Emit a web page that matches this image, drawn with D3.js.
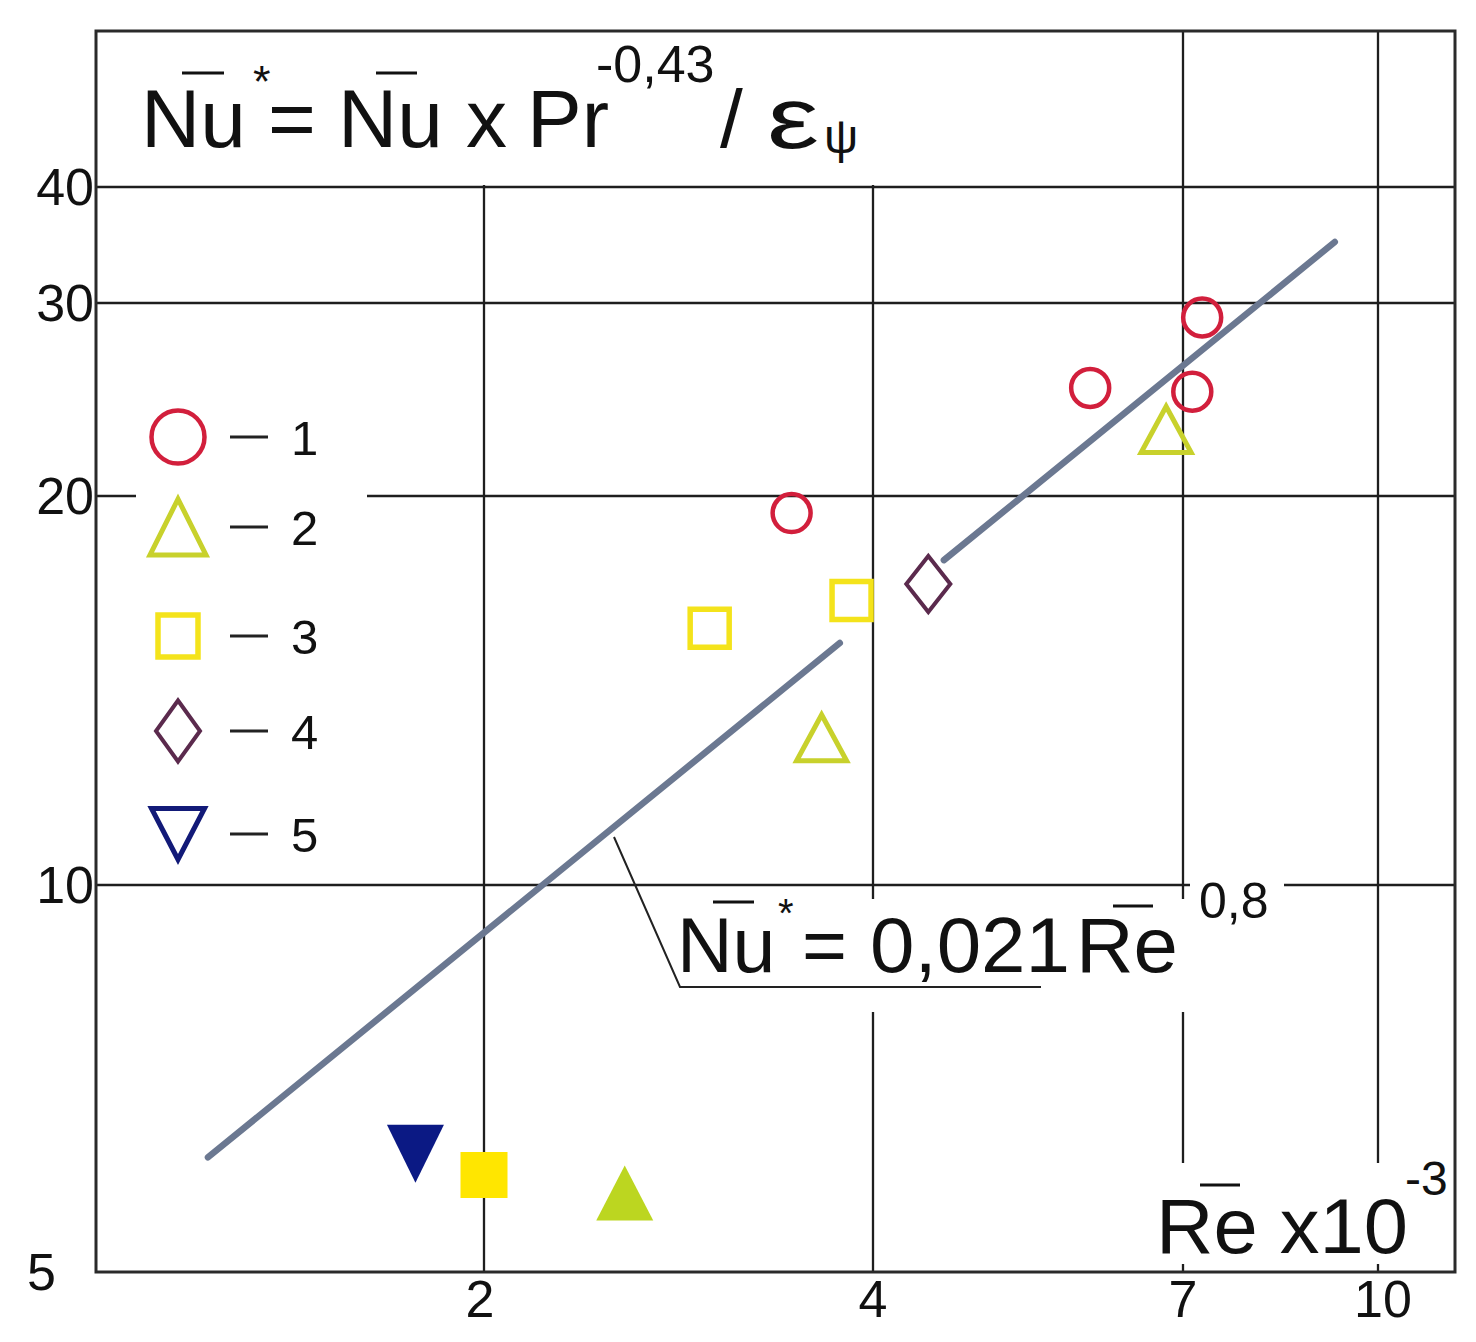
<!DOCTYPE html>
<html><head><meta charset="utf-8">
<script src="https://cdn.jsdelivr.net/npm/d3@7"></script>
<style>
body{margin:0;background:#fff}
svg{display:block}
text{font-family:"Liberation Sans",Arial,Helvetica,sans-serif;fill:#111}
</style>
</head><body>
<svg id="c" width="1476" height="1342"></svg>
<script>
// ---------- data ----------
const categories = ["1", "2", "3", "4", "5"];
const xTicks = [2, 4, 7, 10];          // Re x 10^-3
const yTicks = [5, 10, 20, 30, 40];    // Nu*

// open markers (legend series)
const s1Re = [3.46, 5.92, 7.25, 7.12];
const s1Nu = [19.4, 25.1, 29.1, 24.9];
const s2Re = [3.65, 6.79];
const s2Nu = [13.0, 23.0];
const s3Re = [2.99, 3.85];
const s3Nu = [15.8, 16.6];
const s4Re = [4.42];
const s4Nu = [17.1];
const s5Re = [];
const s5Nu = [];

// filled markers
const filledCat = ["5", "3", "2"];
const filledRe = [1.77, 2.00, 2.57];
const filledNu = [6.18, 5.95, 5.76];

// correlation line Nu* = 0.021 Re^0.8 (drawn in two pieces)
const fitRe = [1.223, 3.77, null, 4.546, 9.24];
const fitNu = [6.14, 15.39, null, 17.84, 34.9];

// ---------- layout ----------
const plot = {left: 96, top: 31, right: 1455, bottom: 1272};
const x = d3.scaleLog().domain(xTicks).range([484, 873, 1183, 1378]);
const y = d3.scaleLog().domain(yTicks).range([1272, 885, 496, 303, 187]);

const openColor = {"1": "#d21f3c", "2": "#c8d12c", "3": "#f4e31b", "4": "#5b2a4d", "5": "#121a78"};
const fillColor = {"5": "#0b1984", "3": "#ffe600", "2": "#bcd620"};
const shapeOf = {"1": "circle", "2": "triUp", "3": "square", "4": "diamond", "5": "triDown"};

function shapePath(shape, w, h) {
  const a = w / 2, b = h / 2;
  switch (shape) {
    case "triUp": return `M0,${-b}L${a},${b}L${-a},${b}Z`;
    case "triDown": return `M${-a},${-b}L${a},${-b}L0,${b}Z`;
    case "square": return `M${-a},${-b}H${a}V${b}H${-a}Z`;
    case "diamond": return `M0,${-b}L${a},0L0,${b}L${-a},0Z`;
  }
}
const plotSize = {circle: [38, 38], triUp: [50, 46], square: [39, 38], diamond: [44, 56], triDown: [52, 52]};
const legendSize = {circle: [53, 53], triUp: [56, 56], square: [40, 42], diamond: [44, 61], triDown: [53, 51]};
const strokeW = {circle: 4.5, triUp: 5, square: 5.5, diamond: 4, triDown: 5};
const filledSize = {triDown: [57, 58], square: [47, 46], triUp: [57, 55]};

const svg = d3.select("#c");

// ---------- grid ----------
const grid = svg.append("g").attr("stroke", "#1e1e1e").attr("stroke-width", 2.3);
grid.selectAll("line.h").data(yTicks.filter(d => d !== yTicks[0])).join("line").attr("class", "h")
  .attr("x1", plot.left).attr("x2", plot.right).attr("y1", d => y(d)).attr("y2", d => y(d));
grid.selectAll("line.v").data(xTicks).join("line").attr("class", "v")
  .attr("x1", d => x(d)).attr("x2", d => x(d)).attr("y1", plot.top).attr("y2", plot.bottom);

// white areas behind labels (interrupt grid lines as in original)
const masks = [[98, 28, 1178, 185], [136, 410, 367, 860], [672, 899, 1187, 1012], [1190, 865, 1284, 925], [1150, 1163, 1452, 1264]];
svg.append("g").selectAll("rect").data(masks).join("rect")
  .attr("x", d => d[0]).attr("y", d => d[1]).attr("width", d => d[2] - d[0]).attr("height", d => d[3] - d[1])
  .attr("fill", "#fff");

// frame
svg.append("rect").attr("x", plot.left).attr("y", plot.top)
  .attr("width", plot.right - plot.left).attr("height", plot.bottom - plot.top)
  .attr("fill", "none").attr("stroke", "#2a2a2a").attr("stroke-width", 3);

// tick labels
svg.append("g").selectAll("text").data(yTicks).join("text")
  .attr("x", d => d === 5 ? 27 : 94).attr("y", d => y(d) + 18)
  .attr("text-anchor", d => d === 5 ? "start" : "end")
  .attr("font-size", 52).text(d => d);
svg.append("g").selectAll("text").data(xTicks).join("text")
  .attr("x", d => x(d) + (d === 10 ? 5 : d === 2 ? -4 : 0)).attr("y", 1317)
  .attr("text-anchor", "middle").attr("font-size", 52).text(d => d);

// ---------- fit line ----------
const fitPts = fitRe.map((r, i) => [r, fitNu[i]]);
svg.append("path").datum(fitPts)
  .attr("d", d3.line().defined(d => d[0] != null).x(d => x(d[0])).y(d => y(d[1])))
  .attr("fill", "none").attr("stroke", "#6b7891").attr("stroke-width", 6.5).attr("stroke-linecap", "round");

// ---------- open markers ----------
const openSeries = [
  {cat: "1", re: s1Re, nu: s1Nu}, {cat: "2", re: s2Re, nu: s2Nu}, {cat: "3", re: s3Re, nu: s3Nu},
  {cat: "4", re: s4Re, nu: s4Nu}, {cat: "5", re: s5Re, nu: s5Nu}
];
const openPts = openSeries.flatMap(s => s.re.map((r, i) => ({cat: s.cat, re: r, nu: s.nu[i]})));
function drawMarker(g, cat, size, filled) {
  const shp = shapeOf[cat];
  if (shp === "circle") {
    g.append("circle").attr("r", size[shp][0] / 2)
      .attr("fill", filled ? fillColor[cat] : "none")
      .attr("stroke", openColor[cat]).attr("stroke-width", strokeW[shp]);
  } else {
    g.append("path").attr("d", shapePath(shp, size[shp][0], size[shp][1]))
      .attr("fill", filled ? fillColor[cat] : "none")
      .attr("stroke", filled ? "none" : openColor[cat])
      .attr("stroke-width", strokeW[shp]).attr("stroke-linejoin", "miter");
  }
}
svg.append("g").selectAll("g").data(openPts).join("g")
  .attr("transform", d => `translate(${x(d.re)},${y(d.nu)})`)
  .each(function(d) { drawMarker(d3.select(this), d.cat, plotSize, false); });

const filledPts = filledCat.map((c, i) => ({cat: c, re: filledRe[i], nu: filledNu[i]}));
svg.append("g").selectAll("g").data(filledPts).join("g")
  .attr("transform", d => `translate(${x(d.re)},${y(d.nu)})`)
  .each(function(d) { drawMarker(d3.select(this), d.cat, filledSize, true); });

// ---------- legend ----------
const legendY = [437, 527, 636, 731, 834];
const leg = svg.append("g").selectAll("g").data(categories).join("g")
  .attr("transform", (d, i) => `translate(0,${legendY[i]})`);
leg.each(function(d) {
  const g = d3.select(this);
  const m = g.append("g").attr("transform", "translate(178,0)");
  drawMarker(m, d, legendSize, false);
  g.append("line").attr("x1", 230).attr("x2", 268).attr("y1", 0).attr("y2", 0)
    .attr("stroke", "#222").attr("stroke-width", 3);
  g.append("text").attr("x", 291).attr("y", 18).attr("font-size", 49).text(d);
});

// ---------- texts ----------
function txt(s, tx, ty, fs, extra) {
  const t = svg.append("text").attr("x", tx).attr("y", ty).attr("font-size", fs).text(s);
  if (extra && extra.tl) t.attr("textLength", extra.tl).attr("lengthAdjust", "spacingAndGlyphs");
  return t;
}
function bar(x1, x2, yy) {
  svg.append("line").attr("x1", x1).attr("x2", x2).attr("y1", yy).attr("y2", yy)
    .attr("stroke", "#111").attr("stroke-width", 3);
}
// title
txt("Nu", 141, 147, 82); bar(182, 224, 73);
txt("*", 253, 97, 45);
txt("=", 268, 147, 82);
txt("Nu", 338, 147, 82); bar(376, 417, 73);
txt("x", 466, 147, 82);
txt("Pr", 527, 147, 82);
txt("-0,43", 596, 82, 52);
txt("/", 720, 147, 82);
txt("ε", 767, 148, 88, {tl: 52});
txt("ψ", 824, 153, 48);

// correlation label + leader
svg.append("path").attr("d", "M614,837L680,987L1041,987").attr("fill", "none")
  .attr("stroke", "#222").attr("stroke-width", 2);
txt("Nu", 677, 972, 77); bar(713, 754, 902);
txt("*", 778, 927, 40);
txt("=", 802, 972, 77);
txt("0,021", 870, 972, 77, {tl: 200});
txt("Re", 1076, 972, 78, {tl: 102}); bar(1113, 1153, 906);
txt("0,8", 1199, 918, 50);

// axis label
txt("Re x10", 1156, 1253, 78, {tl: 252}); bar(1200, 1240, 1185);
txt("-3", 1405, 1195, 48);
</script>
</body></html>
